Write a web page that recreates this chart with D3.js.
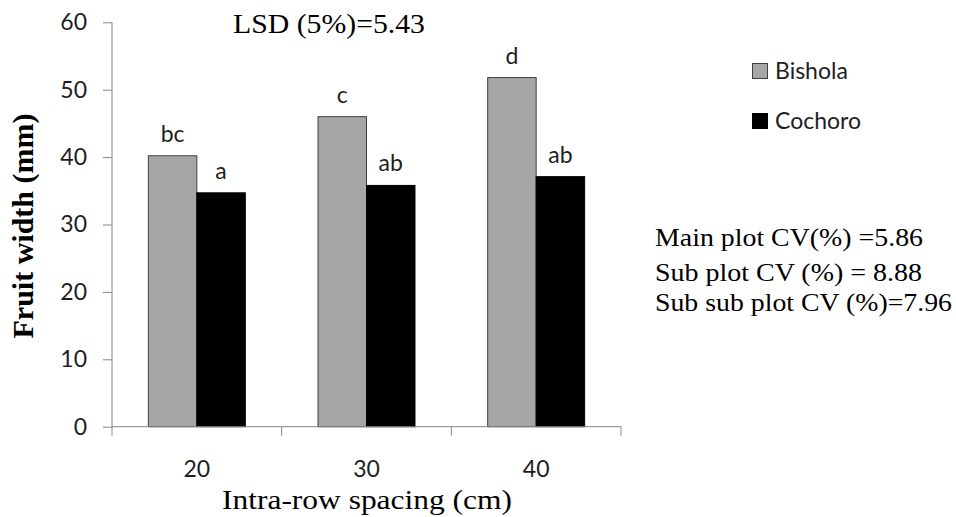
<!DOCTYPE html>
<html>
<head>
<meta charset="utf-8">
<script src="https://cdn.jsdelivr.net/npm/d3@7"></script>
<style>
  html, body { margin: 0; padding: 0; background: #fff; }
  svg { display: block; }
</style>
</head>
<body>
<svg id="chart" width="956" height="517"></svg>
<script>
// ---- data ----
const categories = ["20", "30", "40"];
const seriesNames = ["Bishola", "Cochoro"];
const bisholaValues = [40.2, 46.0, 51.8];
const cochoroValues = [34.7, 35.8, 37.1];
const bisholaLetters = ["bc", "c", "d"];
const cochoroLetters = ["a", "ab", "ab"];
const yTicks = [0, 10, 20, 30, 40, 50, 60];
const yTitle = "Fruit width (mm)";
const xTitle = "Intra-row spacing (cm)";
const lsdText = "LSD (5%)=5.43";
const cvLines = ["Main plot CV(%) =5.86", "Sub plot CV (%) = 8.88", "Sub sub plot CV (%)=7.96"];

const series = [
  { name: seriesNames[0], values: bisholaValues, letters: bisholaLetters, fill: "#a6a6a6", stroke: "#3f3f3f" },
  { name: seriesNames[1], values: cochoroValues, letters: cochoroLetters, fill: "#000000", stroke: "#000000" }
];

// ---- layout ----
const svg = d3.select("#chart");
const pLeft = 112, pRight = 621, pTop = 22.3, pBottom = 426.7;
const axisColor = "#868686";
const textColor = "#1e1e1e";
const sans = "Lato, 'Open Sans', sans-serif";
const serif = "'Liberation Serif', 'Times New Roman', serif";
const sansSize = 23;

const x0 = d3.scaleBand().domain(categories).range([pLeft, pRight]).paddingInner(0).paddingOuter(0);
const x1 = d3.scaleBand().domain(seriesNames).range([0, x0.bandwidth()]).paddingInner(0).paddingOuter(0.75);
const y = d3.scaleLinear().domain([0, 60]).range([pBottom, pTop]);

// Bars
series.forEach(s => {
  const g = svg.append("g");
  g.selectAll("rect").data(categories).join("rect")
    .attr("x", (c) => x0(c) + x1(s.name))
    .attr("y", (c, i) => y(s.values[i]))
    .attr("width", x1.bandwidth())
    .attr("height", (c, i) => y(0) - y(s.values[i]))
    .attr("fill", s.fill)
    .attr("stroke", s.stroke)
    .attr("stroke-width", 1);
  g.selectAll("text").data(categories).join("text")
    .attr("x", (c) => x0(c) + x1(s.name) + x1.bandwidth() / 2)
    .attr("y", (c, i) => y(s.values[i]) - 14)
    .attr("text-anchor", "middle")
    .attr("font-family", sans)
    .attr("font-size", sansSize)
    .attr("fill", textColor)
    .text((c, i) => s.letters[i]);
});

// Y axis
const yAxis = d3.axisLeft(y).tickValues(yTicks).tickSize(9).tickPadding(16).tickFormat(d3.format("d"));
const gy = svg.append("g").attr("transform", `translate(${pLeft},0)`).call(yAxis);
gy.select(".domain").attr("stroke", axisColor).attr("d", `M0,${pTop}V${pBottom}`);
gy.selectAll(".tick line").attr("stroke", axisColor);
gy.selectAll(".tick text").attr("font-family", sans).attr("font-size", sansSize).attr("fill", textColor);

// X axis: labels at band centres, ticks at band boundaries
const xAxis = d3.axisBottom(x0).tickSize(0).tickPadding(34);
const gx = svg.append("g").attr("transform", `translate(0,${pBottom})`).call(xAxis);
gx.select(".domain").attr("stroke", axisColor).attr("d", `M${pLeft},0H${pRight}`);
gx.selectAll(".tick text").attr("font-family", sans).attr("font-size", sansSize).attr("fill", textColor);
const boundaries = categories.map(c => x0(c)).concat([x0(categories[categories.length - 1]) + x0.step()]);
gx.selectAll("line.bound").data(boundaries).join("line")
  .attr("class", "bound")
  .attr("x1", d => d).attr("x2", d => d)
  .attr("y1", 0).attr("y2", 9)
  .attr("stroke", axisColor);

// Axis titles
svg.append("text")
  .attr("transform", `translate(33,226) rotate(-90)`)
  .attr("text-anchor", "middle")
  .attr("font-family", serif)
  .attr("font-weight", "bold")
  .attr("font-size", 30)
  .attr("fill", "#000")
  .text(yTitle);

svg.append("text")
  .attr("x", 222).attr("y", 509)
  .attr("font-family", serif)
  .attr("font-size", 28)
  .attr("textLength", 290).attr("lengthAdjust", "spacingAndGlyphs")
  .attr("fill", "#000")
  .text(xTitle);

// LSD
svg.append("text")
  .attr("x", 233).attr("y", 33)
  .attr("font-family", serif)
  .attr("font-size", 27)
  .attr("textLength", 192).attr("lengthAdjust", "spacingAndGlyphs")
  .attr("fill", "#000")
  .text(lsdText);

// Legend
const legend = svg.append("g");
const legY = [63, 113];
series.forEach((s, i) => {
  legend.append("rect")
    .attr("x", 752.5).attr("y", legY[i] + 0.5)
    .attr("width", 15).attr("height", 15)
    .attr("fill", s.fill).attr("stroke", s.stroke).attr("stroke-width", 1);
  legend.append("text")
    .attr("x", 775).attr("y", legY[i] + 16)
    .attr("font-family", sans).attr("font-size", sansSize)
    .attr("fill", textColor)
    .text(s.name);
});

// CV notes
const cvY = [246, 280.5, 311];
const cvW = [268, 267, 297];
cvLines.forEach((t, i) => {
  svg.append("text")
    .attr("x", 655).attr("y", cvY[i])
    .attr("font-family", serif).attr("font-size", 26)
    .attr("textLength", cvW[i]).attr("lengthAdjust", "spacingAndGlyphs")
    .attr("fill", "#000")
    .text(t);
});
</script>
</body>
</html>
